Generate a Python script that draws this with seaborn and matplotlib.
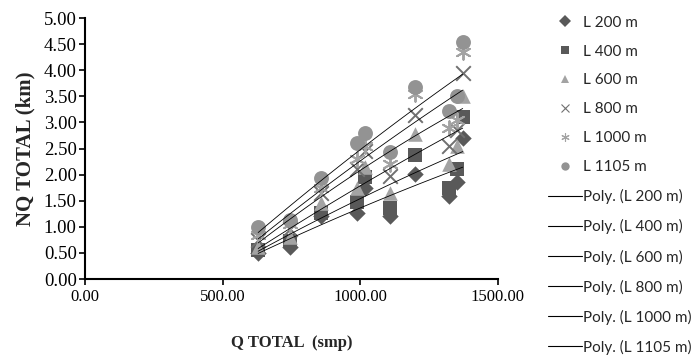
import matplotlib.pyplot as plt
import matplotlib.ticker as mticker
from matplotlib.lines import Line2D
import numpy as np
import pandas as pd
import seaborn as sns

sns.set_style("white")
plt.rcParams["font.family"] = ["Liberation Serif", "DejaVu Serif"]

q_total = [629, 745, 857, 987, 1017, 1108, 1199, 1321, 1350, 1372]
nq_200 = [0.50, 0.62, 1.20, 1.27, 1.75, 1.20, 2.02, 1.60, 1.85, 2.70]
nq_400 = [0.55, 0.72, 1.27, 1.47, 1.95, 1.37, 2.38, 1.75, 2.10, 3.10]
nq_600 = [0.62, 0.80, 1.45, 1.75, 2.15, 1.65, 2.78, 2.20, 2.55, 3.50]
nq_800 = [0.75, 0.95, 1.65, 2.10, 2.45, 1.97, 3.15, 2.55, 2.85, 3.95]
nq_1000 = [0.85, 1.05, 1.75, 2.30, 2.55, 2.20, 3.55, 2.90, 3.05, 4.35]
nq_1105 = [1.00, 1.13, 1.93, 2.60, 2.80, 2.43, 3.68, 3.22, 3.50, 4.55]

labels = ["L 200 m", "L 400 m", "L 600 m", "L 800 m", "L 1000 m", "L 1105 m"]
series = [nq_200, nq_400, nq_600, nq_800, nq_1000, nq_1105]
markers = ["D", "s", "^", "x", (6, 2, 0), "o"]
colors = ["#595959", "#595959", "#a3a3a3", "#707070", "#a3a3a3", "#939393"]
sizes = [70, 100, 110, 110, 110, 115]

fig = plt.figure(figsize=(6.94, 3.61), dpi=100)
ax = fig.add_axes([0.1225, 0.227, 0.595, 0.723])

handles = []
for lab, y, m, c, s in zip(labels, series, markers, colors, sizes):
    df = pd.DataFrame({"Q": q_total, "NQ": y})
    lw = 1.4 if m in ("x", (6, 2, 0)) else 0
    sns.scatterplot(data=df, x="Q", y="NQ", marker=m, color=c, s=s,
                    linewidth=lw, edgecolor=c, ax=ax, legend=False, zorder=2)
    handles.append(Line2D([], [], marker=m, color=c, linestyle="none",
                          markersize=6, markeredgewidth=0.8 if lw else 0,
                          label=lab))

# second order polynomial trendlines, like the spreadsheet
for lab, y in zip(labels, series):
    coef = np.polyfit(q_total, y, 2)
    xs = np.linspace(min(q_total), max(q_total), 100)
    sns.lineplot(x=xs, y=np.polyval(coef, xs), color="black", linewidth=0.6,
                 ax=ax, zorder=3)
    handles.append(Line2D([], [], color="black", linewidth=0.8,
                          label="Poly. (" + lab + ")"))

ax.set_xlim(0, 1500)
ax.set_ylim(0, 5)
ax.xaxis.set_major_locator(mticker.MultipleLocator(500))
ax.yaxis.set_major_locator(mticker.MultipleLocator(0.5))
ax.xaxis.set_major_formatter(mticker.FormatStrFormatter("%.2f"))
ax.yaxis.set_major_formatter(mticker.FormatStrFormatter("%.2f"))
ax.tick_params(direction="out", length=4, width=1.2,
               bottom=True, left=True, colors="black")
ax.tick_params(axis="x", labelsize=12)
ax.tick_params(axis="y", labelsize=13.5, pad=2)
for sp in ["top", "right"]:
    ax.spines[sp].set_visible(False)
for sp in ["left", "bottom"]:
    ax.spines[sp].set_color("black")
    ax.spines[sp].set_linewidth(1.5)

ax.set_xlabel("Q TOTAL  (smp)", fontsize=12, fontweight="bold", labelpad=21)
ax.set_ylabel("NQ TOTAL (km)", fontsize=15, fontweight="bold", labelpad=6)

leg = fig.legend(handles=handles, loc="upper left", bbox_to_anchor=(0.77, 0.995),
                 frameon=False, handlelength=2.2, handletextpad=0.1,
                 labelspacing=0.98, prop={"family": "Lato", "size": 11})

fig.savefig("out.png", dpi=100)
